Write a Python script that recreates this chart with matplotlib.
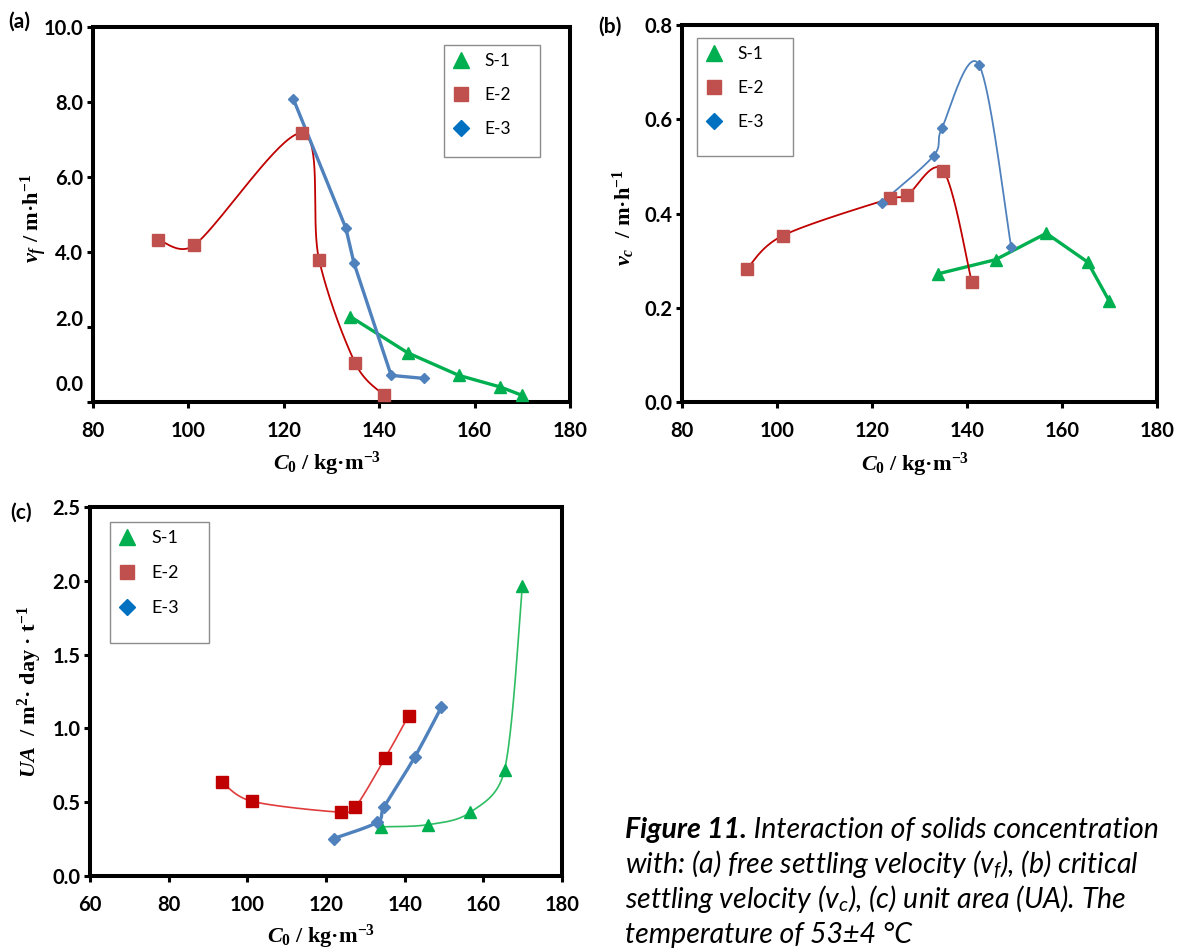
import numpy as np
import matplotlib.pyplot as plt
from matplotlib.lines import Line2D
from matplotlib.patches import Rectangle
from matplotlib.transforms import ScaledTranslation

plt.rcParams['font.family'] = 'Lato'
plt.rcParams['mathtext.fontset'] = 'custom'
plt.rcParams['mathtext.rm'] = 'Liberation Serif:bold'
plt.rcParams['mathtext.it'] = 'Liberation Serif:italic:bold'
plt.rcParams['mathtext.bf'] = 'Liberation Serif:bold'

# ----- data -----
c0_s1 = [133.9, 146.0, 156.7, 165.4, 169.9]
c0_e2 = [93.6, 101.2, 123.8, 127.4, 135.0, 141.0]
c0_e3 = [122.0, 133.0, 134.7, 142.5, 149.3]

vf_s1 = [2.28, 1.31, 0.71, 0.40, 0.18]
vf_e2 = [4.33, 4.18, 7.17, 3.79, 1.03, 0.18]
vf_e3 = [8.08, 4.64, 3.71, 0.71, 0.63]

vc_s1 = [0.272, 0.302, 0.358, 0.297, 0.215]
vc_e2 = [0.282, 0.353, 0.432, 0.439, 0.491, 0.255]
vc_e3 = [0.423, 0.523, 0.581, 0.716, 0.329]

ua_s1 = [0.333, 0.348, 0.432, 0.719, 1.963]
ua_e2 = [0.634, 0.506, 0.432, 0.465, 0.798, 1.086]
ua_e3 = [0.254, 0.364, 0.465, 0.803, 1.142]

series_names = ['S-1', 'E-2', 'E-3']

GREEN = '#00B050'
RED_M = '#C0504D'
RED_L = '#C00000'
BLUE = '#4F81BD'
BLUE_LEG = '#0070C0'

W, H = 1179, 952


def smooth(ax, x, y, n=40):
    # excel style smoothed line (bezier, tangent limited), worked out in pixel space
    fig_w, fig_h = ax.figure.get_size_inches() * ax.figure.dpi
    pos = ax.get_position()
    x0, x1 = ax.get_xlim()
    y0, y1 = ax.get_ylim()
    sx = pos.width * fig_w / (x1 - x0)
    sy = pos.height * fig_h / (y1 - y0)
    P = np.column_stack([np.asarray(x, float) * sx, np.asarray(y, float) * sy])
    P = np.vstack([P[:1], P, P[-1:]])
    t = np.linspace(0, 1, n)[:, None]
    out = []
    for i in range(1, len(P) - 2):
        p0, p1, p2, p3 = P[i - 1], P[i], P[i + 1], P[i + 2]
        d12 = np.hypot(*(p2 - p1))
        d02 = np.hypot(*(p2 - p0))
        d13 = np.hypot(*(p3 - p1))
        f1 = 1 / 6 if d02 / 6 < d12 / 2 else d12 / (2 * d02)
        f2 = 1 / 6 if d13 / 6 < d12 / 2 else d12 / (2 * d13)
        b1 = p1 + f1 * (p2 - p0)
        b2 = p2 - f2 * (p3 - p1)
        seg = (1 - t) ** 3 * p1 + 3 * (1 - t) ** 2 * t * b1 + 3 * (1 - t) * t ** 2 * b2 + t ** 3 * p2
        out.append(seg)
    pts = np.vstack(out)
    return pts[:, 0] / sx, pts[:, 1] / sy


def series(ax, x, y, marker, mc, ms, lc, lw, smoothed):
    if smoothed:
        xs, ys = smooth(ax, x, y)
    else:
        xs, ys = x, y
    ax.plot(xs, ys, color=lc, lw=lw, zorder=2, solid_capstyle='round')
    ax.plot(x, y, ls='none', marker=marker, ms=ms, mfc=mc, mec=mc, zorder=3)


def style_axes(ax, xlim, ylim, xticks, yticks):
    ax.set_xlim(*xlim)
    ax.set_ylim(*ylim)
    ax.set_xticks(xticks)
    ax.set_xticklabels([str(v) for v in xticks], fontweight='bold', fontsize=14.5)
    ax.set_yticks(yticks)
    ax.set_yticklabels(['%.1f' % v for v in yticks], fontweight='bold', fontsize=14.5)
    for s in ax.spines.values():
        s.set_linewidth(2.9)
    ax.tick_params(direction='out', length=4, width=2.2)
    ax.tick_params(axis='x', pad=10)
    ax.tick_params(axis='y', pad=3)


def legend(ax, box, fs):
    # box = (x0, y0, x1, y1) in axes fraction; frame drawn separately
    x0, y0, x1, y1 = box
    ax.add_patch(Rectangle((x0, y0), x1 - x0, y1 - y0, transform=ax.transAxes,
                           facecolor='white', edgecolor='#8c8c8c', lw=1.0, zorder=4.5))
    h = [Line2D([], [], ls='none', marker='^', ms=11, color=GREEN, label=series_names[0]),
         Line2D([], [], ls='none', marker='s', ms=10.5, color=RED_M, label=series_names[1]),
         Line2D([], [], ls='none', marker='D', ms=8.5, color=BLUE_LEG, label=series_names[2])]
    ax.legend(handles=h, loc='upper left', bbox_to_anchor=(x0, y1), frameon=False,
              fontsize=fs, handlelength=1.0, handletextpad=0.85, labelspacing=1.05,
              borderpad=0.45, borderaxespad=0)


def ax_rect(left, top, right, bottom):
    return [left / W, 1 - bottom / H, (right - left) / W, (bottom - top) / H]


fig = plt.figure(figsize=(W / 100, H / 100), dpi=100)

serif = dict(fontfamily='Liberation Serif', fontweight='bold', fontsize=16)

# ----- (a) free settling velocity -----
ax = fig.add_axes(ax_rect(93, 27, 570, 402))
style_axes(ax, (80, 180), (0, 10), list(range(80, 181, 20)), np.arange(0, 10.1, 2))
series(ax, c0_s1, vf_s1, '^', GREEN, 8.5, GREEN, 2.4, False)
series(ax, c0_e2, vf_e2, 's', RED_M, 8.5, RED_L, 1.3, True)
series(ax, c0_e3, vf_e3, 'D', BLUE, 5.5, BLUE, 2.4, False)
ax.set_xlabel(r'$\mathit{C}_\mathregular{0}$ / kg·m$^\mathregular{-3}$', **serif)
ax.set_ylabel(r'$\mathit{v_f}$ / m·h$^\mathregular{-1}$', **serif)
ax.xaxis.set_label_coords(0.49, -0.128)
ax.yaxis.set_label_coords(-0.092, 0.49)
legend(ax, (0.736, 0.653, 0.937, 0.952), 12.5)
# the lowest two value labels sit a little high in the original
for lab, dy in zip(ax.get_yticklabels()[:2], (19, 9)):
    lab.set_transform(lab.get_transform() + ScaledTranslation(0, dy / 100, fig.dpi_scale_trans))
fig.text(8 / W, 1 - 22 / H, '(a)', fontsize=15, fontweight='bold', va='center')

# ----- (b) critical settling velocity -----
ax = fig.add_axes(ax_rect(682, 25, 1157, 402))
style_axes(ax, (80, 180), (0, 0.8), list(range(80, 181, 20)), np.arange(0, 0.81, 0.2))
series(ax, c0_s1, vc_s1, '^', GREEN, 8.5, GREEN, 2.4, False)
series(ax, c0_e2, vc_e2, 's', RED_M, 8.5, RED_L, 1.3, True)
series(ax, c0_e3, vc_e3, 'D', BLUE, 5.5, BLUE, 1.3, True)
ax.set_xlabel(r'$\mathit{C}_\mathregular{0}$ / kg·m$^\mathregular{-3}$', **serif)
ax.set_ylabel(r'$\mathit{v_c}$  / m·h$^\mathregular{-1}$', **serif)
ax.xaxis.set_label_coords(0.49, -0.13)
ax.yaxis.set_label_coords(-0.095, 0.49)
legend(ax, (0.032, 0.6525, 0.234, 0.965), 12.5)
fig.text(598 / W, 1 - 27 / H, '(b)', fontsize=15, fontweight='bold', va='center')

# ----- (c) unit area -----
ax = fig.add_axes(ax_rect(90, 507, 562, 876))
style_axes(ax, (60, 180), (0, 2.5), list(range(60, 181, 20)), np.arange(0, 2.51, 0.5))
series(ax, c0_s1, ua_s1, '^', GREEN, 8.5, '#2EBD62', 1.2, True)
series(ax, c0_e2, ua_e2, 's', RED_L, 9, '#E03C3C', 1.2, True)
series(ax, c0_e3, ua_e3, 'D', BLUE, 6.5, BLUE, 2.4, True)
ax.set_xlabel(r'$\mathit{C_0}$ / kg·m$^\mathregular{-3}$', **serif)
ax.set_ylabel(r'$\mathit{UA}$  / m$^\mathregular{2}$· day · t$^\mathregular{-1}$', **serif)
ax.xaxis.set_label_coords(0.49, -0.127)
ax.yaxis.set_label_coords(-0.097, 0.5)
legend(ax, (0.042, 0.631, 0.252, 0.959), 13)
fig.text(10 / W, 1 - 513 / H, '(c)', fontsize=15, fontweight='bold', va='center')

# ----- caption -----
cap = dict(fontsize=20.5, fontstyle='italic', va='baseline', family='Lato')
t1 = fig.text(625 / W, 1 - 838 / H, 'Figure 11.', fontweight='bold', **cap)
fig.canvas.draw()
bb = t1.get_window_extent()
fig.text(bb.x1 / W, 1 - 838 / H, ' Interaction of solids concentration', **cap)
fig.text(625 / W, 1 - 873 / H, r'with: (a) free settling velocity (v$_\mathregular{f}$), (b) critical', **cap)
fig.text(625 / W, 1 - 908 / H, r'settling velocity (v$_\mathregular{c}$), (c) unit area (UA). The', **cap)
fig.text(625 / W, 1 - 943 / H, 'temperature of 53±4 °C', **cap)

fig.savefig('out.png', dpi=100)
